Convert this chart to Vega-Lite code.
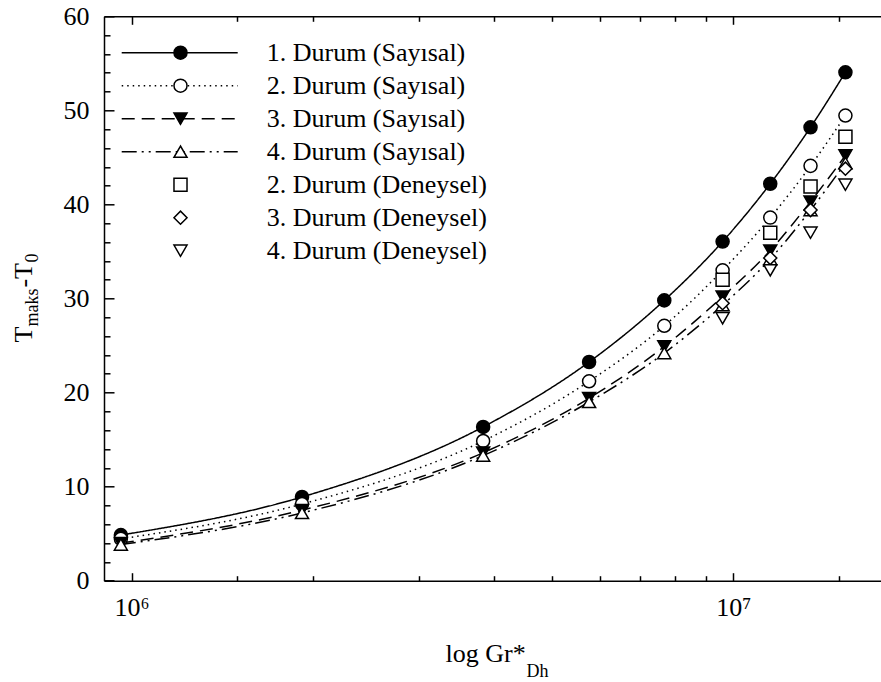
{
  "$schema": "https://vega.github.io/schema/vega-lite/v6.json",
  "autosize": "none",
  "width": 777,
  "height": 564.4,
  "padding": {"left": 104, "top": 16.3, "right": 0, "bottom": 101.3},
  "background": "white",
  "config": {
    "view": {"stroke": null},
    "font": "Liberation Serif",
    "axis": {"grid": false, "domainColor": "black", "domainWidth": 1.5, "tickColor": "black", "tickWidth": 1.5,
             "labelFont": "Liberation Serif", "labelFontSize": 26, "labelColor": "black",
             "titleFont": "Liberation Serif", "titleFontWeight": "normal", "titleColor": "black",
             "labelFlush": false, "labelOverlap": false},
    "legend": {"labelFont": "Liberation Serif", "labelColor": "black", "labelLimit": 0}
  },
  "data": {"values": [
    {"gr": 960000, "dT": 4.85, "durum": "1. Durum (Sayısal)"},
    {"gr": 1920000, "dT": 8.9, "durum": "1. Durum (Sayısal)"},
    {"gr": 3840000, "dT": 16.35, "durum": "1. Durum (Sayısal)"},
    {"gr": 5760000, "dT": 23.25, "durum": "1. Durum (Sayısal)"},
    {"gr": 7680000, "dT": 29.8, "durum": "1. Durum (Sayısal)"},
    {"gr": 9600000, "dT": 36.05, "durum": "1. Durum (Sayısal)"},
    {"gr": 11520000, "dT": 42.2, "durum": "1. Durum (Sayısal)"},
    {"gr": 13440000, "dT": 48.2, "durum": "1. Durum (Sayısal)"},
    {"gr": 15360000, "dT": 54.05, "durum": "1. Durum (Sayısal)"},
    {"gr": 960000, "dT": 4.45, "durum": "2. Durum (Sayısal)"},
    {"gr": 1920000, "dT": 8.15, "durum": "2. Durum (Sayısal)"},
    {"gr": 3840000, "dT": 14.85, "durum": "2. Durum (Sayısal)"},
    {"gr": 5760000, "dT": 21.2, "durum": "2. Durum (Sayısal)"},
    {"gr": 7680000, "dT": 27.1, "durum": "2. Durum (Sayısal)"},
    {"gr": 9600000, "dT": 33.0, "durum": "2. Durum (Sayısal)"},
    {"gr": 11520000, "dT": 38.6, "durum": "2. Durum (Sayısal)"},
    {"gr": 13440000, "dT": 44.1, "durum": "2. Durum (Sayısal)"},
    {"gr": 15360000, "dT": 49.45, "durum": "2. Durum (Sayısal)"},
    {"gr": 960000, "dT": 4.0, "durum": "3. Durum (Sayısal)"},
    {"gr": 1920000, "dT": 7.5, "durum": "3. Durum (Sayısal)"},
    {"gr": 3840000, "dT": 13.6, "durum": "3. Durum (Sayısal)"},
    {"gr": 5760000, "dT": 19.4, "durum": "3. Durum (Sayısal)"},
    {"gr": 7680000, "dT": 24.9, "durum": "3. Durum (Sayısal)"},
    {"gr": 9600000, "dT": 30.2, "durum": "3. Durum (Sayısal)"},
    {"gr": 11520000, "dT": 35.1, "durum": "3. Durum (Sayısal)"},
    {"gr": 13440000, "dT": 40.3, "durum": "3. Durum (Sayısal)"},
    {"gr": 15360000, "dT": 45.2, "durum": "3. Durum (Sayısal)"},
    {"gr": 960000, "dT": 3.85, "durum": "4. Durum (Sayısal)"},
    {"gr": 1920000, "dT": 7.2, "durum": "4. Durum (Sayısal)"},
    {"gr": 3840000, "dT": 13.3, "durum": "4. Durum (Sayısal)"},
    {"gr": 5760000, "dT": 19.0, "durum": "4. Durum (Sayısal)"},
    {"gr": 7680000, "dT": 24.2, "durum": "4. Durum (Sayısal)"},
    {"gr": 9600000, "dT": 29.3, "durum": "4. Durum (Sayısal)"},
    {"gr": 11520000, "dT": 34.2, "durum": "4. Durum (Sayısal)"},
    {"gr": 13440000, "dT": 39.4, "durum": "4. Durum (Sayısal)"},
    {"gr": 15360000, "dT": 44.4, "durum": "4. Durum (Sayısal)"},
    {"gr": 9600000, "dT": 32.0, "durum": "2. Durum (Deneysel)"},
    {"gr": 11520000, "dT": 37.0, "durum": "2. Durum (Deneysel)"},
    {"gr": 13440000, "dT": 41.9, "durum": "2. Durum (Deneysel)"},
    {"gr": 15360000, "dT": 47.2, "durum": "2. Durum (Deneysel)"},
    {"gr": 9600000, "dT": 29.5, "durum": "3. Durum (Deneysel)"},
    {"gr": 11520000, "dT": 34.3, "durum": "3. Durum (Deneysel)"},
    {"gr": 13440000, "dT": 39.4, "durum": "3. Durum (Deneysel)"},
    {"gr": 15360000, "dT": 43.8, "durum": "3. Durum (Deneysel)"},
    {"gr": 9600000, "dT": 27.9, "durum": "4. Durum (Deneysel)"},
    {"gr": 11520000, "dT": 33.0, "durum": "4. Durum (Deneysel)"},
    {"gr": 13440000, "dT": 37.0, "durum": "4. Durum (Deneysel)"},
    {"gr": 15360000, "dT": 42.1, "durum": "4. Durum (Deneysel)"}
  ]},
  "layer": [
    {
      "transform": [{"filter": "indexof(datum.durum, 'Sayısal') >= 0"}],
      "mark": {"type": "line", "interpolate": "monotone", "color": "black", "strokeWidth": 1.5},
      "encoding": {
        "x": {"field": "gr", "type": "quantitative",
              "scale": {"type": "log", "domain": [900000, 17600000], "nice": false},
              "axis": {"orient": "bottom",
                       "values": [1000000, 1500000, 2000000, 3000000, 4000000, 5000000, 6000000, 7000000, 8000000, 9000000, 10000000, 15000000],
                       "labelExpr": "datum.value == 1000000 ? '10⁶' : (datum.value == 10000000 ? '10⁷' : '')",
                       "tickSize": {"condition": {"test": "datum.value == 1000000 || datum.value == 10000000", "value": -8}, "value": -5},
                       "labelPadding": 22, "labelDx": 3,
                       "title": "log Gr*", "titleFontSize": 26, "titleAlign": "left", "titleBaseline": "alphabetic",
                       "titleX": 341, "titleY": 81}},
        "y": {"field": "dT", "type": "quantitative",
              "scale": {"domain": [0, 60], "nice": false, "zero": true},
              "axis": {"orient": "left",
                       "values": [0, 2, 4, 6, 8, 10, 12, 14, 16, 18, 20, 22, 24, 26, 28, 30, 32, 34, 36, 38, 40, 42, 44, 46, 48, 50, 52, 54, 56, 58, 60],
                       "labelExpr": "datum.value % 10 == 0 ? datum.label : ''",
                       "tickSize": {"condition": {"test": "datum.value % 10 == 0", "value": -10}, "value": -6},
                       "labelPadding": 25,
                       "title": "T\u00a0\u00a0\u00a0\u00a0\u00a0\u00a0-T", "titleFontSize": 26, "titleAngle": -90, "titleAlign": "left", "titleBaseline": "alphabetic",
                       "titleX": -72.3, "titleY": 325.7}},
        "strokeDash": {"field": "durum", "type": "nominal",
                       "scale": {"domain": ["1. Durum (Sayısal)", "2. Durum (Sayısal)", "3. Durum (Sayısal)", "4. Durum (Sayısal)"],
                                 "range": [[1, 0], [1.5, 4], [13, 7], [15, 5, 2, 5, 2, 5]]},
                       "legend": {"orient": "none", "legendX": 16.7, "legendY": 19.9, "title": null, "padding": 0,
                                  "symbolType": "stroke", "symbolSize": 13456, "symbolStrokeColor": "black", "symbolStrokeWidth": 1.5,
                                  "symbolOffset": 0, "clipHeight": 33, "rowPadding": 0, "labelExpr": "''", "labelFontSize": 1}}
      }
    },
    {
      "mark": {"type": "point", "filled": true, "opacity": 1, "stroke": "black", "strokeWidth": 1.5},
      "encoding": {
        "x": {"field": "gr", "type": "quantitative",
              "axis": {"orient": "top",
                       "values": [1000000, 1500000, 2000000, 3000000, 4000000, 5000000, 6000000, 7000000, 8000000, 9000000, 10000000, 15000000],
                       "labels": false,
                       "tickSize": {"condition": {"test": "datum.value == 1000000 || datum.value == 10000000", "value": -8}, "value": -5},
                       "title": "Dh", "titleFontSize": 18, "titleAlign": "left", "titleBaseline": "alphabetic", "titleAngle": 0,
                       "titleX": 422, "titleY": 660.4}},
        "y": {"field": "dT", "type": "quantitative",
              "axis": {"orient": "right", "domain": false, "ticks": false, "labels": false,
                       "title": "maks\u00a0\u00a0\u00a0\u00a0\u00a0\u20090", "titleFontSize": 18, "titleAngle": -90, "titleAlign": "left", "titleBaseline": "alphabetic",
                       "titleX": -844, "titleY": 309.7}},
        "shape": {"field": "durum", "type": "nominal",
                  "scale": {"domain": ["1. Durum (Sayısal)", "2. Durum (Sayısal)", "3. Durum (Sayısal)", "4. Durum (Sayısal)", "2. Durum (Deneysel)", "3. Durum (Deneysel)", "4. Durum (Deneysel)"],
                            "range": ["circle", "circle", "triangle-down", "triangle-up", "square", "diamond", "triangle-down"]},
                  "legend": {"orient": "none", "legendX": 63.5, "legendY": 19.9, "title": null, "padding": 0,
                             "symbolOffset": 0, "clipHeight": 33, "rowPadding": 0, "labelOffset": 73.2,
                             "labelFont": "Liberation Serif", "labelFontSize": 26, "labelLimit": 0,
                             "symbolStrokeColor": "black", "symbolStrokeWidth": 1.5, "symbolOpacity": 1}},
        "fill": {"field": "durum", "type": "nominal",
                 "scale": {"domain": ["1. Durum (Sayısal)", "2. Durum (Sayısal)", "3. Durum (Sayısal)", "4. Durum (Sayısal)", "2. Durum (Deneysel)", "3. Durum (Deneysel)", "4. Durum (Deneysel)"],
                           "range": ["black", "white", "black", "white", "white", "white", "white"]}},
        "size": {"field": "durum", "type": "nominal",
                 "scale": {"domain": ["1. Durum (Sayısal)", "2. Durum (Sayısal)", "3. Durum (Sayısal)", "4. Durum (Sayısal)", "2. Durum (Deneysel)", "3. Durum (Deneysel)", "4. Durum (Deneysel)"],
                           "range": [170, 170, 210, 200, 140, 220, 200]}}
      }
    }
  ],
  "resolve": {"axis": {"x": "independent", "y": "independent"}}
}
